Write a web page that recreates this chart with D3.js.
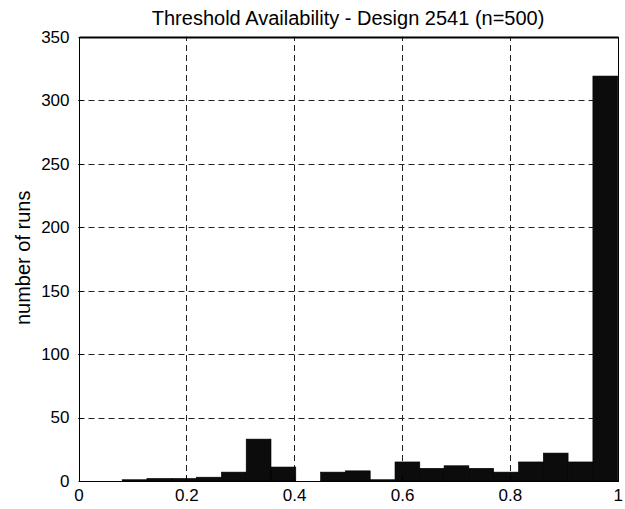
<!DOCTYPE html>
<html>
<head>
<meta charset="utf-8">
<script src="https://cdn.jsdelivr.net/npm/d3@7"></script>
<style>
  html, body { margin: 0; padding: 0; background: #fff; }
  svg { display: block; }
  text { font-family: "Liberation Sans", Arial, Helvetica, sans-serif; fill: #000; }
</style>
</head>
<body>
<svg id="chart" width="625" height="509"></svg>
<script>
// Histogram bin edges (availability fraction) and the run count in each bin
const binEdges = [0.081, 0.127, 0.173, 0.219, 0.265, 0.311, 0.357, 0.403, 0.449, 0.495,
                  0.541, 0.587, 0.633, 0.678, 0.724, 0.770, 0.816, 0.862, 0.908, 0.954, 1.0];
const counts = [1, 2, 2, 3, 7, 33, 11, 0, 7, 8, 1, 15, 10, 12, 10, 7, 15, 22, 15, 319];
const xTicks = [0, 0.2, 0.4, 0.6, 0.8, 1];
const xTickLabels = ["0", "0.2", "0.4", "0.6", "0.8", "1"];
const yTicks = [0, 50, 100, 150, 200, 250, 300, 350];
const titleText = "Threshold Availability - Design 2541 (n=500)";
const yLabelText = "number of runs";

const bins = counts.map((c, i) => ({ x0: binEdges[i], x1: binEdges[i + 1], count: c }));

const svg = d3.select("#chart");
const margin = { left: 78.5, right: 625 - 617.7, top: 36.7, bottom: 509 - 481 };
const W = 625, H = 509;

const x = d3.scaleLinear().domain([0, 1]).range([margin.left, W - margin.right]);
const y = d3.scaleLinear().domain([0, 350]).range([H - margin.bottom, margin.top]);

// dashed grid lines
const grid = svg.append("g").attr("stroke", "#222").attr("stroke-width", 1).attr("stroke-dasharray", "6,4");
grid.selectAll("line.gx").data(xTicks.slice(1, -1)).join("line")
  .attr("x1", d => Math.round(x(d)) + 0.5).attr("x2", d => Math.round(x(d)) + 0.5)
  .attr("y1", y(0)).attr("y2", y(350));
grid.selectAll("line.gy").data(yTicks.slice(1, -1)).join("line")
  .attr("y1", d => Math.round(y(d)) + 0.5).attr("y2", d => Math.round(y(d)) + 0.5)
  .attr("x1", x(0)).attr("x2", x(1));

// histogram bars
svg.append("g").selectAll("rect").data(bins).join("rect")
  .attr("x", d => x(d.x0))
  .attr("width", d => x(d.x1) - x(d.x0))
  .attr("y", d => y(d.count))
  .attr("height", d => y(0) - y(d.count))
  .attr("fill", "#0c0c0c")
  .attr("stroke", "#000")
  .attr("stroke-width", 0.6);

// axes box
const bx0 = Math.round(x(0)) + 0.5, bx1 = Math.round(x(1)) + 0.5;
const by0 = Math.round(y(0)) + 0.5, by1 = Math.round(y(350)) + 0.5;
svg.append("rect")
  .attr("x", bx0).attr("y", by1)
  .attr("width", bx1 - bx0).attr("height", by0 - by1)
  .attr("fill", "none").attr("stroke", "#000").attr("stroke-width", 1);
svg.append("line")
  .attr("x1", bx0).attr("x2", bx1).attr("y1", by1).attr("y2", by1)
  .attr("stroke", "#000").attr("stroke-width", 2);

// axes with labels only (tick marks drawn inside below)
const xAxis = d3.axisBottom(x).tickValues(xTicks).tickFormat((d, i) => xTickLabels[i]).tickSize(0).tickPadding(8);
const yAxis = d3.axisLeft(y).tickValues(yTicks).tickFormat(d3.format("d")).tickSize(0).tickPadding(9);

const gx = svg.append("g").attr("transform", `translate(0,${y(0)})`).call(xAxis);
const gy = svg.append("g").attr("transform", `translate(${x(0)},0)`).call(yAxis);
[gx, gy].forEach(g => {
  g.select(".domain").remove();
  g.selectAll("text").attr("font-size", 17).attr("font-family", "'Liberation Sans', Arial, sans-serif");
});

// inward tick marks
const ticks = svg.append("g").attr("stroke", "#000").attr("stroke-width", 1);
ticks.selectAll("line.tx").data(xTicks).join("line")
  .attr("x1", d => Math.round(x(d)) + 0.5).attr("x2", d => Math.round(x(d)) + 0.5)
  .attr("y1", y(0)).attr("y2", y(0) - 5);
ticks.selectAll("line.ty").data(yTicks).join("line")
  .attr("y1", d => Math.round(y(d)) + 0.5).attr("y2", d => Math.round(y(d)) + 0.5)
  .attr("x1", x(0)).attr("x2", x(0) + 5);

// title
svg.append("text")
  .attr("x", (x(0) + x(1)) / 2).attr("y", 24.5)
  .attr("text-anchor", "middle").attr("font-size", 20)
  .text(titleText);

// y-axis label
svg.append("text")
  .attr("transform", `translate(30,${(y(0) + y(350)) / 2 - 1}) rotate(-90)`)
  .attr("text-anchor", "middle").attr("font-size", 20)
  .text(yLabelText);
</script>
</body>
</html>
